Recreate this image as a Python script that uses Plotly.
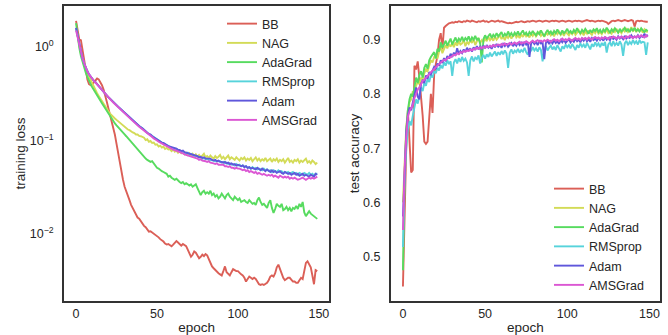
import plotly.graph_objects as go

epochs = list(range(150))
names = ["BB", "NAG", "AdaGrad", "RMSprop", "Adam", "AMSGrad"]
colors = ["#db5f57", "#d3db57", "#57db5f", "#57d3db", "#5f57db", "#db57d3"]

loss_bb = [1.90, 1.45, 1.20, 1.18, 0.92, 0.72, 0.62, 0.45, 0.40, 0.39,
           0.40, 0.42, 0.45, 0.46, 0.45, 0.42, 0.39, 0.35, 0.31, 0.26,
           0.22, 0.19, 0.165, 0.14, 0.115, 0.092, 0.072, 0.058, 0.046, 0.038,
           0.032, 0.029, 0.026, 0.023, 0.0205, 0.019, 0.0175, 0.0160, 0.0150, 0.0146,
           0.0136, 0.0128, 0.0122, 0.0118, 0.0110, 0.0106, 0.0107, 0.0104, 0.0102, 0.0098,
           0.0095, 0.0092, 0.0088, 0.0086, 0.0083, 0.0079, 0.0077, 0.0078, 0.0076, 0.0074,
           0.0077, 0.0080, 0.0084, 0.0081, 0.0077, 0.0075, 0.0078, 0.0076, 0.0074, 0.0068,
           0.0062, 0.0057, 0.0060, 0.0065, 0.0063, 0.0059, 0.0055, 0.0057, 0.0060, 0.0058,
           0.0061, 0.0059, 0.0053, 0.0048, 0.0045, 0.0043, 0.0041, 0.0040, 0.0038, 0.0037,
           0.0036, 0.0040, 0.0045, 0.0039, 0.0037, 0.0036, 0.0039, 0.0042, 0.0041, 0.0040,
           0.0040, 0.0038, 0.0037, 0.0036, 0.0034, 0.0031, 0.0033, 0.0035, 0.0034, 0.0033,
           0.0034, 0.0033, 0.0031, 0.0029, 0.00285, 0.0029, 0.00285, 0.0029, 0.0030, 0.0032,
           0.0035, 0.0036, 0.0035, 0.0038, 0.0044, 0.0047, 0.0042, 0.0037, 0.0034, 0.0032,
           0.0033, 0.0034, 0.0034, 0.0032, 0.0031, 0.0031, 0.0030, 0.0030, 0.0032, 0.0034,
           0.0033, 0.0040, 0.0049, 0.0051, 0.0048, 0.0044, 0.0036, 0.0029, 0.0041, 0.0040]

loss_nag = [1.60, 1.25, 1.00, 0.85, 0.76, 0.66, 0.59, 0.53, 0.48, 0.44,
            0.40, 0.37, 0.345, 0.32, 0.30, 0.28, 0.265, 0.25, 0.235, 0.22,
            0.205, 0.193, 0.187, 0.178, 0.172, 0.166, 0.160, 0.155, 0.149, 0.145,
            0.140, 0.135, 0.131, 0.129, 0.124, 0.122, 0.120, 0.116, 0.116, 0.112,
            0.111, 0.108, 0.107, 0.101, 0.103, 0.097, 0.099, 0.094, 0.095, 0.090,
            0.091, 0.086, 0.088, 0.084, 0.086, 0.081, 0.083, 0.080, 0.081, 0.077,
            0.080, 0.076, 0.078, 0.074, 0.077, 0.073, 0.075, 0.071, 0.074, 0.070,
            0.073, 0.069, 0.072, 0.068, 0.071, 0.067, 0.070, 0.066, 0.069, 0.072,
            0.066, 0.068, 0.065, 0.069, 0.066, 0.064, 0.068, 0.065, 0.067, 0.070,
            0.064, 0.067, 0.063, 0.066, 0.069, 0.063, 0.066, 0.064, 0.062, 0.066,
            0.064, 0.061, 0.065, 0.063, 0.066, 0.061, 0.064, 0.062, 0.065, 0.060,
            0.063, 0.066, 0.061, 0.064, 0.060, 0.063, 0.061, 0.065, 0.060, 0.062,
            0.064, 0.059, 0.063, 0.061, 0.064, 0.059, 0.062, 0.060, 0.063, 0.058,
            0.062, 0.065, 0.059, 0.061, 0.058, 0.062, 0.060, 0.063, 0.058, 0.061,
            0.059, 0.062, 0.064, 0.058, 0.060, 0.057, 0.061, 0.059, 0.056, 0.058]

loss_adagrad = [1.80, 1.25, 0.98, 0.80, 0.68, 0.60, 0.53, 0.48, 0.43, 0.40,
                0.37, 0.345, 0.32, 0.30, 0.28, 0.265, 0.25, 0.235, 0.22, 0.205,
                0.192, 0.18, 0.17, 0.16, 0.152, 0.145, 0.138, 0.131, 0.125, 0.121,
                0.116, 0.111, 0.106, 0.101, 0.096, 0.092, 0.088, 0.084, 0.079, 0.076,
                0.072, 0.069, 0.066, 0.064, 0.062, 0.061, 0.059, 0.060, 0.057, 0.054,
                0.051, 0.050, 0.048, 0.047, 0.046, 0.045, 0.044, 0.041, 0.042, 0.040,
                0.039, 0.038, 0.039, 0.037, 0.036, 0.035, 0.036, 0.034, 0.035, 0.034,
                0.033, 0.034, 0.032, 0.033, 0.034, 0.031, 0.028, 0.026, 0.028, 0.029,
                0.027, 0.028, 0.027, 0.029, 0.026, 0.027, 0.025, 0.026, 0.024, 0.025,
                0.027, 0.025, 0.024, 0.026, 0.027, 0.025, 0.024, 0.023, 0.025, 0.024,
                0.023, 0.024, 0.022, 0.0225, 0.023, 0.022, 0.0215, 0.023, 0.022, 0.021,
                0.0215, 0.0205, 0.023, 0.0245, 0.022, 0.0205, 0.021, 0.020, 0.019, 0.0215,
                0.023, 0.019, 0.0168, 0.0185, 0.021, 0.020, 0.0195, 0.021, 0.018, 0.0185,
                0.0195, 0.018, 0.019, 0.0175, 0.019, 0.0185, 0.020, 0.0185, 0.021, 0.0195,
                0.022, 0.017, 0.0155, 0.0165, 0.0175, 0.0165, 0.016, 0.0155, 0.015, 0.0145]

loss_rmsprop = [1.58, 1.28, 1.04, 0.87, 0.75, 0.67, 0.60, 0.55, 0.51, 0.48,
                0.455, 0.433, 0.418, 0.398, 0.379, 0.36, 0.344, 0.329, 0.314, 0.30,
                0.289, 0.279, 0.267, 0.257, 0.247, 0.237, 0.229, 0.221, 0.213, 0.206,
                0.198, 0.191, 0.184, 0.177, 0.170, 0.164, 0.157, 0.152, 0.147, 0.142,
                0.139, 0.134, 0.130, 0.125, 0.122, 0.117, 0.115, 0.112, 0.107, 0.105,
                0.103, 0.099, 0.098, 0.094, 0.093, 0.090, 0.089, 0.087, 0.085, 0.084,
                0.083, 0.081, 0.081, 0.079, 0.078, 0.077, 0.076, 0.075, 0.073, 0.074,
                0.071, 0.072, 0.070, 0.069, 0.068, 0.068, 0.066, 0.066, 0.064, 0.065,
                0.063, 0.064, 0.062, 0.062, 0.061, 0.061, 0.060, 0.060, 0.059, 0.060,
                0.058, 0.059, 0.057, 0.058, 0.056, 0.057, 0.055, 0.056, 0.054, 0.056,
                0.054, 0.055, 0.053, 0.054, 0.052, 0.053, 0.051, 0.052, 0.050, 0.052,
                0.050, 0.051, 0.049, 0.050, 0.049, 0.048, 0.050, 0.048, 0.049, 0.047,
                0.048, 0.046, 0.048, 0.047, 0.046, 0.048, 0.046, 0.047, 0.045, 0.046,
                0.045, 0.046, 0.044, 0.045, 0.046, 0.044, 0.045, 0.043, 0.045, 0.044,
                0.043, 0.045, 0.044, 0.043, 0.045, 0.043, 0.044, 0.042, 0.044, 0.044]

loss_adam = [1.60, 1.30, 1.05, 0.88, 0.76, 0.67, 0.60, 0.55, 0.51, 0.48,
             0.455, 0.435, 0.42, 0.40, 0.38, 0.36, 0.345, 0.33, 0.315, 0.30,
             0.29, 0.28, 0.268, 0.258, 0.248, 0.238, 0.23, 0.222, 0.214, 0.207,
             0.199, 0.192, 0.185, 0.178, 0.171, 0.165, 0.158, 0.152, 0.148, 0.143,
             0.138, 0.135, 0.129, 0.126, 0.121, 0.118, 0.116, 0.111, 0.108, 0.106,
             0.102, 0.100, 0.097, 0.095, 0.094, 0.091, 0.090, 0.087, 0.086, 0.085,
             0.083, 0.082, 0.082, 0.079, 0.079, 0.077, 0.078, 0.075, 0.074, 0.074,
             0.072, 0.071, 0.071, 0.069, 0.069, 0.068, 0.066, 0.067, 0.065, 0.066,
             0.064, 0.064, 0.063, 0.064, 0.062, 0.061, 0.062, 0.060, 0.061, 0.059,
             0.059, 0.058, 0.059, 0.057, 0.058, 0.056, 0.057, 0.055, 0.056, 0.054,
             0.055, 0.054, 0.053, 0.054, 0.052, 0.053, 0.051, 0.052, 0.050, 0.051,
             0.050, 0.049, 0.051, 0.049, 0.048, 0.050, 0.048, 0.047, 0.049, 0.047,
             0.046, 0.048, 0.046, 0.047, 0.045, 0.046, 0.047, 0.045, 0.044, 0.046,
             0.045, 0.044, 0.045, 0.043, 0.044, 0.045, 0.043, 0.044, 0.042, 0.043,
             0.044, 0.042, 0.043, 0.042, 0.041, 0.043, 0.042, 0.041, 0.044, 0.043]

loss_amsgrad = [1.50, 1.25, 1.03, 0.87, 0.76, 0.67, 0.60, 0.55, 0.51, 0.48,
                0.455, 0.435, 0.417, 0.398, 0.378, 0.36, 0.343, 0.328, 0.313, 0.298,
                0.287, 0.276, 0.265, 0.255, 0.245, 0.235, 0.227, 0.219, 0.211, 0.204,
                0.196, 0.189, 0.182, 0.175, 0.168, 0.162, 0.155, 0.150, 0.145, 0.140,
                0.136, 0.132, 0.127, 0.123, 0.119, 0.115, 0.113, 0.109, 0.105, 0.103,
                0.100, 0.097, 0.095, 0.092, 0.090, 0.088, 0.087, 0.084, 0.083, 0.082,
                0.080, 0.079, 0.078, 0.076, 0.075, 0.074, 0.073, 0.071, 0.070, 0.070,
                0.068, 0.067, 0.067, 0.065, 0.064, 0.064, 0.062, 0.063, 0.061, 0.061,
                0.060, 0.059, 0.060, 0.058, 0.058, 0.057, 0.056, 0.057, 0.055, 0.055,
                0.054, 0.055, 0.053, 0.053, 0.052, 0.053, 0.051, 0.051, 0.050, 0.051,
                0.050, 0.050, 0.049, 0.048, 0.049, 0.047, 0.048, 0.046, 0.047, 0.046,
                0.045, 0.046, 0.044, 0.045, 0.044, 0.043, 0.044, 0.043, 0.042, 0.043,
                0.042, 0.043, 0.041, 0.042, 0.041, 0.040, 0.042, 0.041, 0.040, 0.041,
                0.040, 0.041, 0.039, 0.040, 0.039, 0.040, 0.039, 0.038, 0.0385, 0.039,
                0.040, 0.039, 0.038, 0.039, 0.040, 0.039, 0.040, 0.039, 0.040, 0.041]

acc_bb = [0.445, 0.600, 0.700, 0.770, 0.720, 0.655, 0.660, 0.852, 0.845, 0.860,
          0.830, 0.800, 0.760, 0.712, 0.708, 0.712, 0.765, 0.800, 0.765, 0.835,
          0.855, 0.870, 0.900, 0.912, 0.882, 0.922, 0.925, 0.928, 0.930, 0.931,
          0.932, 0.931, 0.933, 0.932, 0.934, 0.933, 0.932, 0.934, 0.933, 0.935,
          0.934, 0.933, 0.935, 0.934, 0.933, 0.932, 0.934, 0.933, 0.934, 0.935,
          0.933, 0.934, 0.932, 0.933, 0.935, 0.934, 0.933, 0.934, 0.935, 0.933,
          0.934, 0.933, 0.932, 0.931, 0.930, 0.931, 0.930, 0.931, 0.932, 0.933,
          0.932, 0.933, 0.934, 0.933, 0.932, 0.933, 0.934, 0.933, 0.934, 0.935,
          0.934, 0.933, 0.934, 0.935, 0.934, 0.933, 0.934, 0.935, 0.934, 0.933,
          0.934, 0.935, 0.934, 0.935, 0.934, 0.933, 0.934, 0.935, 0.934, 0.933,
          0.934, 0.935, 0.934, 0.933, 0.934, 0.935, 0.934, 0.935, 0.934, 0.933,
          0.934, 0.935, 0.936, 0.935, 0.934, 0.935, 0.934, 0.933, 0.934, 0.935,
          0.934, 0.935, 0.934, 0.933, 0.932, 0.929, 0.932, 0.934, 0.935, 0.934,
          0.935, 0.936, 0.935, 0.934, 0.935, 0.936, 0.935, 0.934, 0.935, 0.936,
          0.935, 0.924, 0.934, 0.935, 0.934, 0.935, 0.934, 0.933, 0.933, 0.933]

acc_nag = [0.600, 0.680, 0.740, 0.765, 0.785, 0.790, 0.805, 0.800, 0.815, 0.822,
           0.818, 0.830, 0.826, 0.838, 0.845, 0.842, 0.855, 0.862, 0.858, 0.868,
           0.872, 0.865, 0.878, 0.888, 0.875, 0.882, 0.890, 0.884, 0.892, 0.887,
           0.893, 0.886, 0.895, 0.889, 0.897, 0.891, 0.893, 0.900, 0.888, 0.896,
           0.892, 0.899, 0.894, 0.901, 0.890, 0.897, 0.903, 0.893, 0.899, 0.896,
           0.902, 0.897, 0.905, 0.899, 0.903, 0.898, 0.906, 0.900, 0.904, 0.908,
           0.901, 0.906, 0.899, 0.907, 0.903, 0.909, 0.902, 0.906, 0.911, 0.904,
           0.908, 0.903, 0.910, 0.905, 0.912, 0.906, 0.909, 0.904, 0.911, 0.907,
           0.913, 0.906, 0.910, 0.914, 0.907, 0.911, 0.905, 0.912, 0.909, 0.915,
           0.908, 0.912, 0.906, 0.914, 0.910, 0.916, 0.909, 0.913, 0.907, 0.915,
           0.911, 0.908, 0.914, 0.910, 0.916, 0.909, 0.913, 0.917, 0.910, 0.914,
           0.908, 0.915, 0.911, 0.917, 0.912, 0.909, 0.916, 0.912, 0.918, 0.911,
           0.914, 0.910, 0.917, 0.913, 0.919, 0.912, 0.915, 0.911, 0.918, 0.914,
           0.920, 0.913, 0.916, 0.912, 0.919, 0.915, 0.921, 0.914, 0.917, 0.923,
           0.916, 0.919, 0.914, 0.920, 0.916, 0.918, 0.913, 0.919, 0.915, 0.914]

acc_adagrad = [0.475, 0.640, 0.730, 0.770, 0.790, 0.800, 0.795, 0.815, 0.830, 0.820,
               0.835, 0.842, 0.830, 0.848, 0.855, 0.846, 0.862, 0.868, 0.872, 0.877,
               0.865, 0.883, 0.878, 0.895, 0.885, 0.892, 0.898, 0.889, 0.896, 0.902,
               0.891, 0.899, 0.904, 0.895, 0.902, 0.898, 0.905, 0.897, 0.903, 0.899,
               0.906, 0.897, 0.904, 0.900, 0.907, 0.899, 0.903, 0.893, 0.858, 0.901,
               0.908, 0.902, 0.906, 0.911, 0.903, 0.909, 0.905, 0.912, 0.906, 0.910,
               0.914, 0.905, 0.911, 0.907, 0.915, 0.908, 0.912, 0.906, 0.913, 0.909,
               0.915, 0.908, 0.912, 0.917, 0.909, 0.913, 0.907, 0.914, 0.910, 0.916,
               0.911, 0.908, 0.914, 0.910, 0.917, 0.912, 0.906, 0.913, 0.918, 0.911,
               0.915, 0.909, 0.916, 0.912, 0.919, 0.913, 0.910, 0.917, 0.912, 0.915,
               0.920, 0.913, 0.916, 0.911, 0.918, 0.914, 0.921, 0.915, 0.912, 0.918,
               0.914, 0.920, 0.915, 0.911, 0.918, 0.913, 0.919, 0.916, 0.921, 0.914,
               0.918, 0.912, 0.919, 0.915, 0.922, 0.916, 0.913, 0.919, 0.915, 0.921,
               0.916, 0.913, 0.920, 0.915, 0.918, 0.922, 0.916, 0.919, 0.914, 0.920,
               0.917, 0.922, 0.916, 0.919, 0.915, 0.921, 0.917, 0.914, 0.918, 0.916]

acc_rmsprop = [0.518, 0.640, 0.700, 0.735, 0.750, 0.742, 0.760, 0.775, 0.790, 0.782,
               0.800, 0.812, 0.805, 0.820, 0.815, 0.828, 0.822, 0.835, 0.830, 0.842,
               0.838, 0.848, 0.843, 0.853, 0.847, 0.858, 0.852, 0.862, 0.855, 0.860,
               0.833, 0.858, 0.864, 0.856, 0.866, 0.859, 0.868, 0.861, 0.865, 0.858,
               0.833, 0.862, 0.869, 0.860, 0.867, 0.864, 0.871, 0.856, 0.866, 0.872,
               0.865, 0.873, 0.868, 0.876, 0.869, 0.874, 0.878, 0.870, 0.877, 0.872,
               0.879, 0.873, 0.880, 0.875, 0.848, 0.876, 0.882, 0.874, 0.880, 0.877,
               0.883, 0.876, 0.881, 0.878, 0.885, 0.877, 0.872, 0.884, 0.879, 0.886,
               0.880, 0.884, 0.878, 0.886, 0.881, 0.860, 0.883, 0.888, 0.880, 0.885,
               0.889, 0.882, 0.887, 0.881, 0.890, 0.884, 0.878, 0.888, 0.883, 0.891,
               0.886, 0.890, 0.884, 0.892, 0.887, 0.881, 0.890, 0.885, 0.893, 0.887,
               0.891, 0.885, 0.894, 0.888, 0.882, 0.892, 0.887, 0.895, 0.889, 0.893,
               0.886, 0.894, 0.889, 0.896, 0.876, 0.891, 0.895, 0.888, 0.897, 0.890,
               0.894, 0.889, 0.897, 0.891, 0.870, 0.893, 0.898, 0.890, 0.896, 0.892,
               0.899, 0.893, 0.897, 0.891, 0.899, 0.894, 0.896, 0.895, 0.872, 0.895]

acc_adam = [0.574, 0.670, 0.730, 0.760, 0.775, 0.770, 0.785, 0.800, 0.812, 0.795,
            0.790, 0.818, 0.826, 0.820, 0.834, 0.828, 0.840, 0.836, 0.845, 0.850,
            0.846, 0.856, 0.852, 0.862, 0.857, 0.866, 0.860, 0.870, 0.865, 0.874,
            0.868, 0.876, 0.871, 0.884, 0.873, 0.879, 0.875, 0.882, 0.877, 0.885,
            0.879, 0.884, 0.878, 0.886, 0.881, 0.888, 0.882, 0.887, 0.883, 0.889,
            0.884, 0.890, 0.885, 0.888, 0.883, 0.891, 0.886, 0.892, 0.887, 0.890,
            0.885, 0.892, 0.888, 0.893, 0.887, 0.891, 0.894, 0.888, 0.893, 0.889,
            0.895, 0.890, 0.894, 0.888, 0.896, 0.891, 0.895, 0.868, 0.893, 0.897,
            0.892, 0.896, 0.890, 0.897, 0.893, 0.895, 0.864, 0.894, 0.898, 0.892,
            0.897, 0.893, 0.899, 0.894, 0.897, 0.892, 0.899, 0.895, 0.900, 0.894,
            0.898, 0.901, 0.895, 0.899, 0.896, 0.902, 0.897, 0.900, 0.895, 0.902,
            0.898, 0.903, 0.897, 0.901, 0.896, 0.903, 0.899, 0.902, 0.898, 0.904,
            0.899, 0.903, 0.898, 0.905, 0.900, 0.903, 0.899, 0.906, 0.901, 0.904,
            0.900, 0.906, 0.902, 0.905, 0.901, 0.907, 0.902, 0.905, 0.903, 0.908,
            0.903, 0.906, 0.904, 0.908, 0.903, 0.907, 0.905, 0.911, 0.906, 0.909]

acc_amsgrad = [0.549, 0.660, 0.720, 0.758, 0.768, 0.775, 0.780, 0.792, 0.800, 0.808,
               0.812, 0.818, 0.824, 0.826, 0.830, 0.834, 0.836, 0.840, 0.843, 0.846,
               0.850, 0.852, 0.855, 0.858, 0.860, 0.863, 0.862, 0.866, 0.868, 0.867,
               0.870, 0.872, 0.871, 0.875, 0.873, 0.877, 0.876, 0.879, 0.878, 0.880,
               0.879, 0.882, 0.880, 0.883, 0.882, 0.885, 0.883, 0.886, 0.884, 0.887,
               0.885, 0.888, 0.886, 0.889, 0.887, 0.890, 0.888, 0.889, 0.891, 0.889,
               0.892, 0.890, 0.893, 0.890, 0.892, 0.894, 0.891, 0.893, 0.895, 0.892,
               0.894, 0.896, 0.893, 0.895, 0.894, 0.897, 0.895, 0.893, 0.896, 0.898,
               0.895, 0.897, 0.899, 0.896, 0.898, 0.896, 0.899, 0.897, 0.900, 0.898,
               0.896, 0.899, 0.901, 0.898, 0.900, 0.897, 0.900, 0.902, 0.899, 0.901,
               0.899, 0.902, 0.900, 0.898, 0.901, 0.903, 0.900, 0.902, 0.899, 0.903,
               0.901, 0.903, 0.900, 0.904, 0.902, 0.900, 0.903, 0.905, 0.902, 0.904,
               0.901, 0.904, 0.902, 0.905, 0.903, 0.901, 0.905, 0.903, 0.906, 0.904,
               0.902, 0.905, 0.903, 0.906, 0.904, 0.902, 0.906, 0.904, 0.907, 0.905,
               0.903, 0.906, 0.904, 0.907, 0.905, 0.908, 0.906, 0.904, 0.908, 0.905]

loss_series = [loss_bb, loss_nag, loss_adagrad, loss_rmsprop, loss_adam, loss_amsgrad]
acc_series = [acc_bb, acc_nag, acc_adagrad, acc_rmsprop, acc_adam, acc_amsgrad]

loss_tickvals = [0.01, 0.1, 1]
loss_ticktext = ["10<sup>\u22122</sup>", "10<sup>\u22121</sup>", "10<sup>0</sup>"]
acc_tickvals = [0.5, 0.6, 0.7, 0.8, 0.9]
x_tickvals = [0, 50, 100, 150]

FONT = "Liberation Sans, Arial, sans-serif"
TXT = "#262626"

fig = go.Figure()
for name, col, ys in zip(names, colors, loss_series):
    fig.add_trace(go.Scatter(x=epochs, y=ys, mode="lines", name=name,
                             line=dict(color=col, width=1.9),
                             xaxis="x", yaxis="y", legend="legend"))
for name, col, ys in zip(names, colors, acc_series):
    fig.add_trace(go.Scatter(x=epochs, y=ys, mode="lines", name=name,
                             line=dict(color=col, width=1.9),
                             xaxis="x2", yaxis="y2", legend="legend2"))

axis_common = dict(showgrid=False, zeroline=False, showline=True, mirror=True,
                   linecolor="#333333", linewidth=1.6, ticks="",
                   tickfont=dict(family=FONT, size=12.5, color=TXT),
                   automargin=False)

W, H = 668, 335
ml, mr, mt, mb = 64, 8, 6, 34
iw = W - ml - mr
ih = H - mt - mb
title_font = dict(size=13.5, family=FONT, color=TXT)

fig.update_layout(
    width=W, height=H,
    margin=dict(l=ml, r=mr, t=mt, b=mb),
    paper_bgcolor="white", plot_bgcolor="white",
    font=dict(family=FONT, color=TXT, size=12.5),
    xaxis=dict(domain=[0, (329.3 - ml) / iw], range=[-7.45, 156.45],
               tickvals=x_tickvals, anchor="y",
               title=dict(text="epoch", font=title_font, standoff=8),
               ticklabelstandoff=0, **axis_common),
    yaxis=dict(domain=[0, 1], type="log", range=[-2.717, 0.4385],
               tickvals=loss_tickvals, ticktext=loss_ticktext, anchor="x",
               title=dict(text="training loss", font=title_font, standoff=1),
               ticklabelstandoff=6, **axis_common),
    xaxis2=dict(domain=[(390.7 - ml) / iw, 1], range=[-7.45, 156.45],
                tickvals=x_tickvals, anchor="y2",
                title=dict(text="epoch", font=title_font, standoff=8),
                ticklabelstandoff=0, **axis_common),
    yaxis2=dict(domain=[0, 1], range=[0.4183, 0.962], tickvals=acc_tickvals,
                tickformat=".1f", anchor="x2",
                title=dict(text="test accuracy", font=title_font, standoff=0),
                ticklabelstandoff=6, **axis_common),
    legend=dict(x=(222 - ml) / iw, y=1 - (9 - mt) / ih, xanchor="left", yanchor="top",
                bgcolor="rgba(0,0,0,0)", font=dict(family=FONT, size=12.5, color=TXT),
                tracegroupgap=0),
    legend2=dict(x=(549 - ml) / iw, y=1 - (174 - mt) / ih, xanchor="left", yanchor="top",
                 bgcolor="rgba(0,0,0,0)", font=dict(family=FONT, size=12.5, color=TXT),
                 tracegroupgap=0),
    showlegend=True,
)

fig.write_html("out.html")
